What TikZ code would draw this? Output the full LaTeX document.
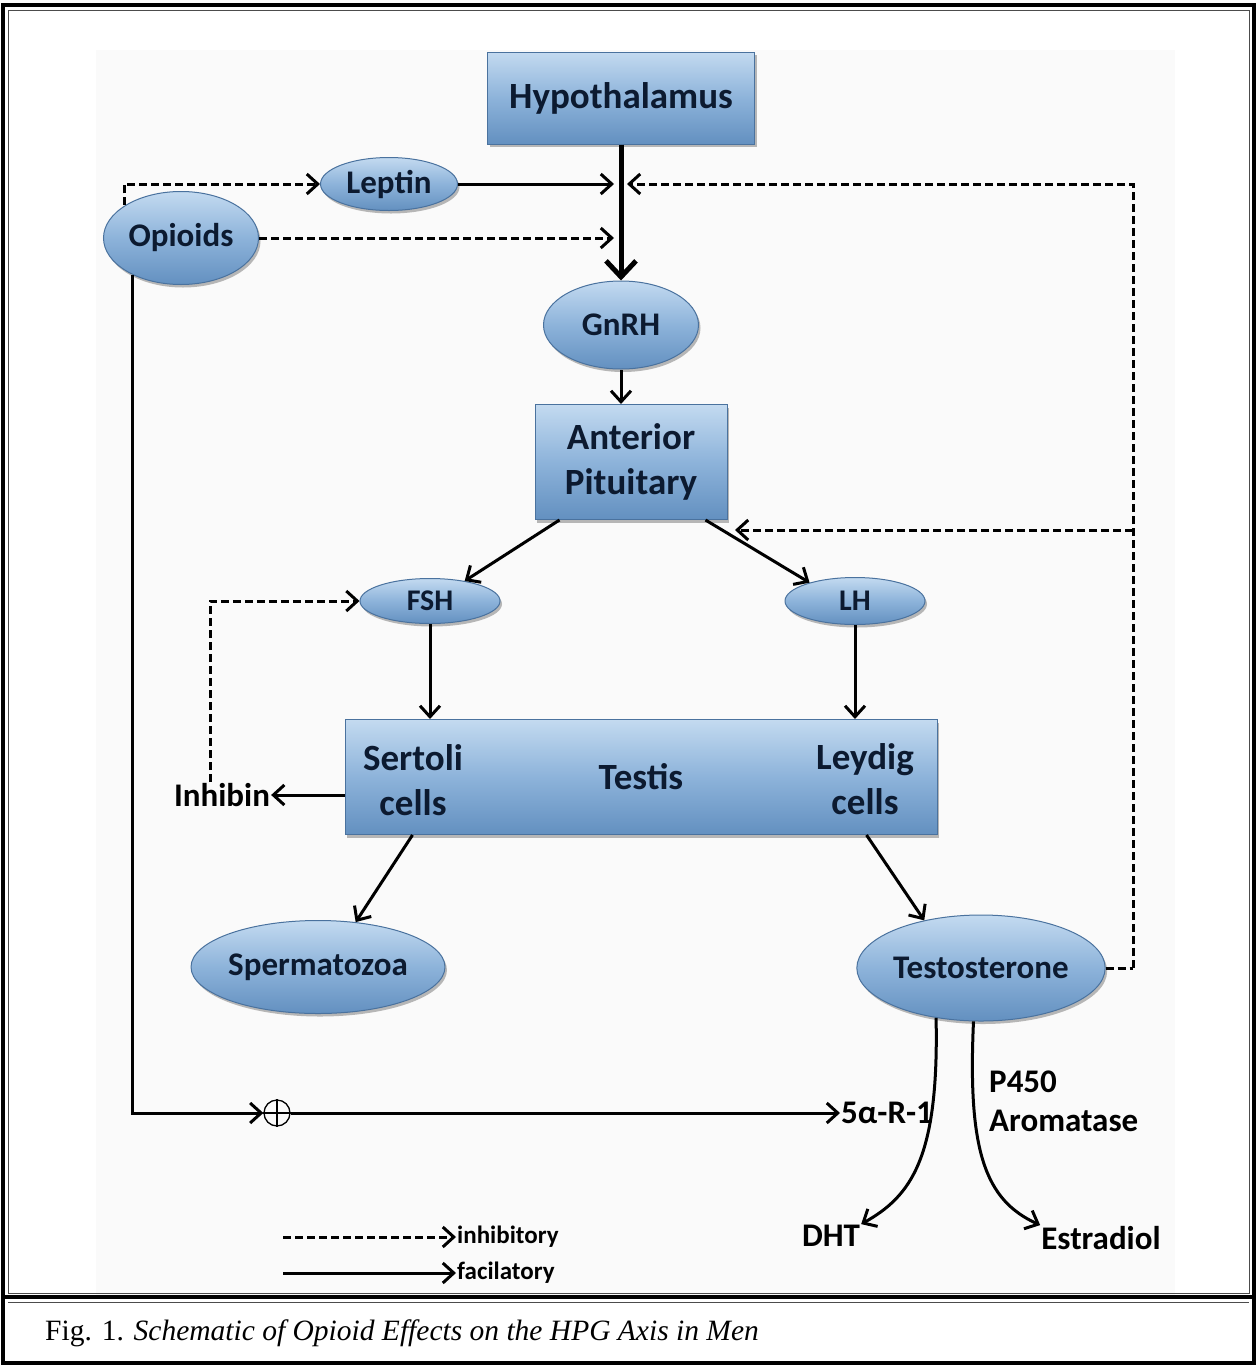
\documentclass[tikz,border=0pt]{standalone}
\usepackage{fontspec}
\setmainfont{Liberation Serif}
\newfontfamily\labelfont{Carlito}
\usetikzlibrary{arrows.meta,shapes.geometric,shadows}
\definecolor{celltop}{HTML}{C3DAF0}
\definecolor{cellmid}{HTML}{8DB3DA}
\definecolor{cellbot}{HTML}{6390C0}
\definecolor{cellline}{HTML}{4A729E}
\definecolor{cellink}{HTML}{0C1A30}
\newcommand\boxsize{\fontsize{37}{45}\selectfont}
\newcommand\cellsize{\fontsize{33}{39}\selectfont}

\begin{document}
\begin{tikzpicture}[x=1pt,y=-1pt,
    >={Straight Barb[length=11pt,width=20pt]},
    facil/.style={->,line width=3pt},
    inhib/.style={->,line width=3pt,dash pattern=on 8pt off 4pt},
    shaded/.style={draw=cellline,line width=1pt,top color=celltop,bottom color=cellbot,
        middle color=cellmid,drop shadow={shadow xshift=2pt,shadow yshift=-3pt,fill=black!55},
        text=cellink,inner sep=0pt},
    box/.style={shaded,rectangle,font=\labelfont\bfseries\boxsize},
    cell/.style={shaded,ellipse,font=\labelfont\bfseries\cellsize},
    lbl/.style={font=\labelfont\bfseries\cellsize,inner sep=1pt},
    intext/.style={font=\labelfont\bfseries\boxsize,text=cellink,align=center,inner sep=0pt}]
    \useasboundingbox (0,0) rectangle (1257,1366);
    \fill[black!2] (96,50) rectangle (1175,1295);
    \draw[line width=3.5pt] (3,5) rectangle (1254,1363);
    \draw[line width=0.8pt,black!70] (8,10) rectangle (1249,1293);
    \draw[line width=3.5pt] (3,1297) -- (1254,1297);
    \draw[line width=0.8pt,black!70] (8,1302) -- (1249,1302);

    \node[box,minimum width=267pt,minimum height=92pt] (hypo) at (621,98) {Hypothalamus};
    \node[cell,minimum width=137pt,minimum height=53pt] (leptin) at (389,184) {Leptin};
    \node[cell,minimum width=155pt,minimum height=93pt] (opioids) at (181,238) {Opioids};
    \node[cell,minimum width=155pt,minimum height=88pt] (gnrh) at (621,325) {GnRH};
    \node[box,minimum width=192pt,minimum height=115pt,align=center] (ap) at (631,462) {Anterior\\Pituitary};
    \node[cell,minimum width=140pt,minimum height=45pt,font=\labelfont\bfseries\fontsize{30}{36}\selectfont] (fsh) at (430,601) {FSH};
    \node[cell,minimum width=140pt,minimum height=47pt,font=\labelfont\bfseries\fontsize{30}{36}\selectfont] (lh) at (855,601) {LH};
    \node[box,minimum width=592pt,minimum height=115pt] (testis) at (641,777) {Testis};
    \node[intext] (sertoli) at (413,780) {Sertoli\\cells};
    \node[intext] (leydig) at (865,779) {Leydig\\cells};
    \node[lbl] (inhibin) at (222,795) {Inhibin};
    \node[cell,minimum width=196pt,minimum height=93pt] (sperm) at (318,967) {Spermatozoa};
    \node[cell,minimum width=216pt,minimum height=106pt] (testo) at (981,968) {Testosterone};
    \node[circle,draw,line width=1.3pt,minimum size=26pt,inner sep=0pt] (plus) at (277,1113) {};
    \node[lbl,anchor=west] (fivear) at (840,1113) {5α-R-1};
    \node[lbl,anchor=north west,align=left] (p450) at (988,1070) {P450\\Aromatase};
    \node[lbl] (dht) at (831,1236) {DHT};
    \node[lbl] (estr) at (1101,1238) {Estradiol};
    \node[font=\labelfont\bfseries\fontsize{25}{30}\selectfont,anchor=west,inner sep=1pt] (inhtxt) at (456,1237) {inhibitory};
    \node[font=\labelfont\bfseries\fontsize{25}{30}\selectfont,anchor=west,inner sep=1pt] (factxt) at (456,1273) {facilatory};
    \node[anchor=west,inner sep=0pt,font=\fontsize{29.5}{34}\selectfont] (caption) at (45,1333)
        {Fig. 1. \textit{Schematic of Opioid Effects on the HPG Axis in Men}};

    \coordinate (jl) at (614,184);
    \coordinate (jr) at (627,184);
    \coordinate (fb) at (1133,968);
    \coordinate (apb) at (735,530);
    \coordinate (inhstart) at (283,1237);
    \coordinate (facstart) at (283,1273);

    \draw[->,line width=5pt,>={Straight Barb[length=16pt,width=30pt]}] (hypo) to (gnrh);
    \draw[facil] (leptin.east) to (jl);
    \draw[inhib] (opioids.east) to (opioids.east -| jl);
    \draw[inhib] (opioids.150) |- (leptin.west);
    \draw[facil] (gnrh.south) to (gnrh.south |- ap.north);
    \draw[facil] ([xshift=25pt]ap.south west) to (fsh.30);
    \draw[facil] ([xshift=-22pt]ap.south east) to (lh.158);
    \draw[facil] (fsh.south) to (fsh.south |- testis.north);
    \draw[facil] (lh.south) to (lh.south |- testis.north);
    \draw[facil] (testis.west |- inhibin.east) to (inhibin.east);
    \draw[inhib] ([xshift=-12pt]inhibin.north) |- (fsh.west);
    \draw[facil] ([xshift=68pt]testis.south west) to (sperm.50);
    \draw[facil] ([xshift=-71pt]testis.south east) to (testo.140);
    \draw[inhib,-] (testo.east) to (fb);
    \draw[inhib] (fb) |- (jr);
    \draw[inhib] (fb |- apb) to (apb);
    \draw[facil] (opioids.217) |- (plus.west);
    \draw[line width=1.3pt] (plus.north) to (plus.south) (plus.west) to (plus.east);
    \draw[facil] (plus.east) to (fivear.west);
    \draw[facil] (testo.228) .. controls +(3,140) and +(50,-28) .. (dht.north east);
    \draw[facil] (testo.262) .. controls +(-6,130) and +(-55,-25) .. (estr.north west);
    \draw[inhib] (inhstart) to (inhtxt.west);
    \draw[facil] (facstart) to (factxt.west);
\end{tikzpicture}
\end{document}
